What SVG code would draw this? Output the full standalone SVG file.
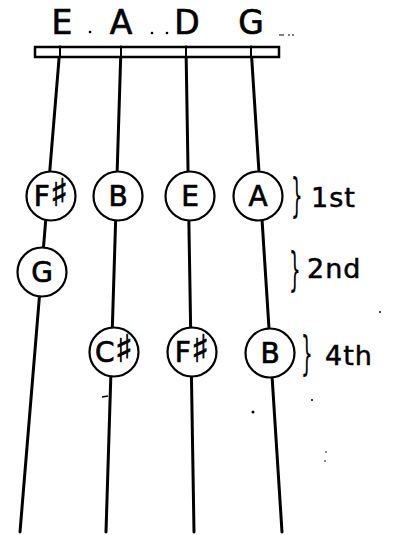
<svg xmlns="http://www.w3.org/2000/svg" width="393" height="535" viewBox="0 0 393 535">
<style>
.str{stroke:#000;stroke-width:3;fill:none;stroke-linecap:round}
.nd{fill:#fff;stroke:#000;stroke-width:2.2}
.lbl{font-family:"DejaVu Sans","Liberation Sans",sans-serif;font-size:28px;text-anchor:middle;fill:#000;stroke:#000;stroke-width:0.7}
.sh{font-size:38px}
.hdr{font-family:"DejaVu Sans","Liberation Sans",sans-serif;font-size:33px;text-anchor:middle;fill:#000;stroke:#000;stroke-width:0.7}
.pos{font-family:"DejaVu Sans","Liberation Sans",sans-serif;font-size:27px;fill:#000;stroke:#000;stroke-width:0.5;letter-spacing:1px}
.br{font-family:"DejaVu Sans","Liberation Sans",sans-serif;font-size:46px;fill:#000}
.dot{fill:#000}
</style>
<rect width="393" height="535" fill="#fff"/>
<g id="header">
<text class="hdr" x="62" y="34">E</text>
<text class="hdr" x="121" y="34">A</text>
<text class="hdr" x="187" y="34">D</text>
<text class="hdr" x="251" y="34">G</text>
<circle class="dot" cx="90" cy="32" r="1.3"/>
<circle class="dot" cx="152" cy="33" r="1.3"/>
<circle class="dot" cx="167" cy="33" r="1.3"/>
<path d="M279 35 h5 M288 35 h2 M292 35 h2" stroke="#000" stroke-width="1"/>
</g>
<g id="connectors">
<line class="str" x1="60" y1="47" x2="20" y2="532"/>
<line class="str" x1="121" y1="47" x2="106" y2="532"/>
<line class="str" x1="186" y1="47" x2="194" y2="532"/>
<line class="str" x1="251" y1="47" x2="282" y2="532"/>
</g>
<g id="nut">
<rect x="35" y="47" width="244" height="10" fill="#fff" stroke="#000" stroke-width="2.5"/>
<line x1="60" y1="47" x2="60" y2="57" stroke="#000" stroke-width="2"/>
<line x1="121" y1="47" x2="121" y2="57" stroke="#000" stroke-width="2"/>
<line x1="186" y1="47" x2="186" y2="57" stroke="#000" stroke-width="2"/>
<line x1="251" y1="47" x2="251" y2="57" stroke="#000" stroke-width="2"/>
</g>
<g id="n-fsharp1"><circle class="nd" cx="51" cy="196" r="24.5"/><text class="lbl" x="51" y="206">F<tspan class="sh">♯</tspan></text></g>
<g id="n-b1"><circle class="nd" cx="118" cy="196" r="24.5"/><text class="lbl" x="118" y="206">B</text></g>
<g id="n-e"><circle class="nd" cx="190" cy="196" r="24.5"/><text class="lbl" x="190" y="206">E</text></g>
<g id="n-a"><circle class="nd" cx="258" cy="196" r="24.5"/><text class="lbl" x="258" y="206">A</text></g>
<g id="n-g"><circle class="nd" cx="42" cy="272" r="24.5"/><text class="lbl" x="42" y="282">G</text></g>
<g id="n-csharp"><circle class="nd" cx="114" cy="352" r="24.5"/><text class="lbl" x="114" y="362">C<tspan class="sh">♯</tspan></text></g>
<g id="n-fsharp2"><circle class="nd" cx="192" cy="352" r="24.5"/><text class="lbl" x="192" y="362">F<tspan class="sh">♯</tspan></text></g>
<g id="n-b2"><circle class="nd" cx="270" cy="353" r="24.5"/><text class="lbl" x="270" y="363">B</text></g>
<g id="pos-1st">
<text class="br" transform="translate(291 211) scale(0.4 1)">}</text>
<text class="pos" x="311" y="207">1st</text>
</g>
<g id="pos-2nd">
<text class="br" transform="translate(289 285) scale(0.4 1)">}</text>
<text class="pos" x="307" y="278">2nd</text>
</g>
<g id="pos-4th">
<text class="br" transform="translate(301 369) scale(0.4 1)">}</text>
<text class="pos" x="325" y="365">4th</text>
</g>
<g id="specks">
<circle class="dot" cx="380" cy="312" r="1"/>
<circle class="dot" cx="253" cy="412" r="1.5"/>
<circle class="dot" cx="312" cy="400" r="1"/>
<circle class="dot" cx="326" cy="452" r="0.8"/>
<circle class="dot" cx="325" cy="461" r="0.8"/>
<line x1="102" y1="397" x2="108" y2="396" stroke="#000" stroke-width="1.5"/>
</g>
</svg>
